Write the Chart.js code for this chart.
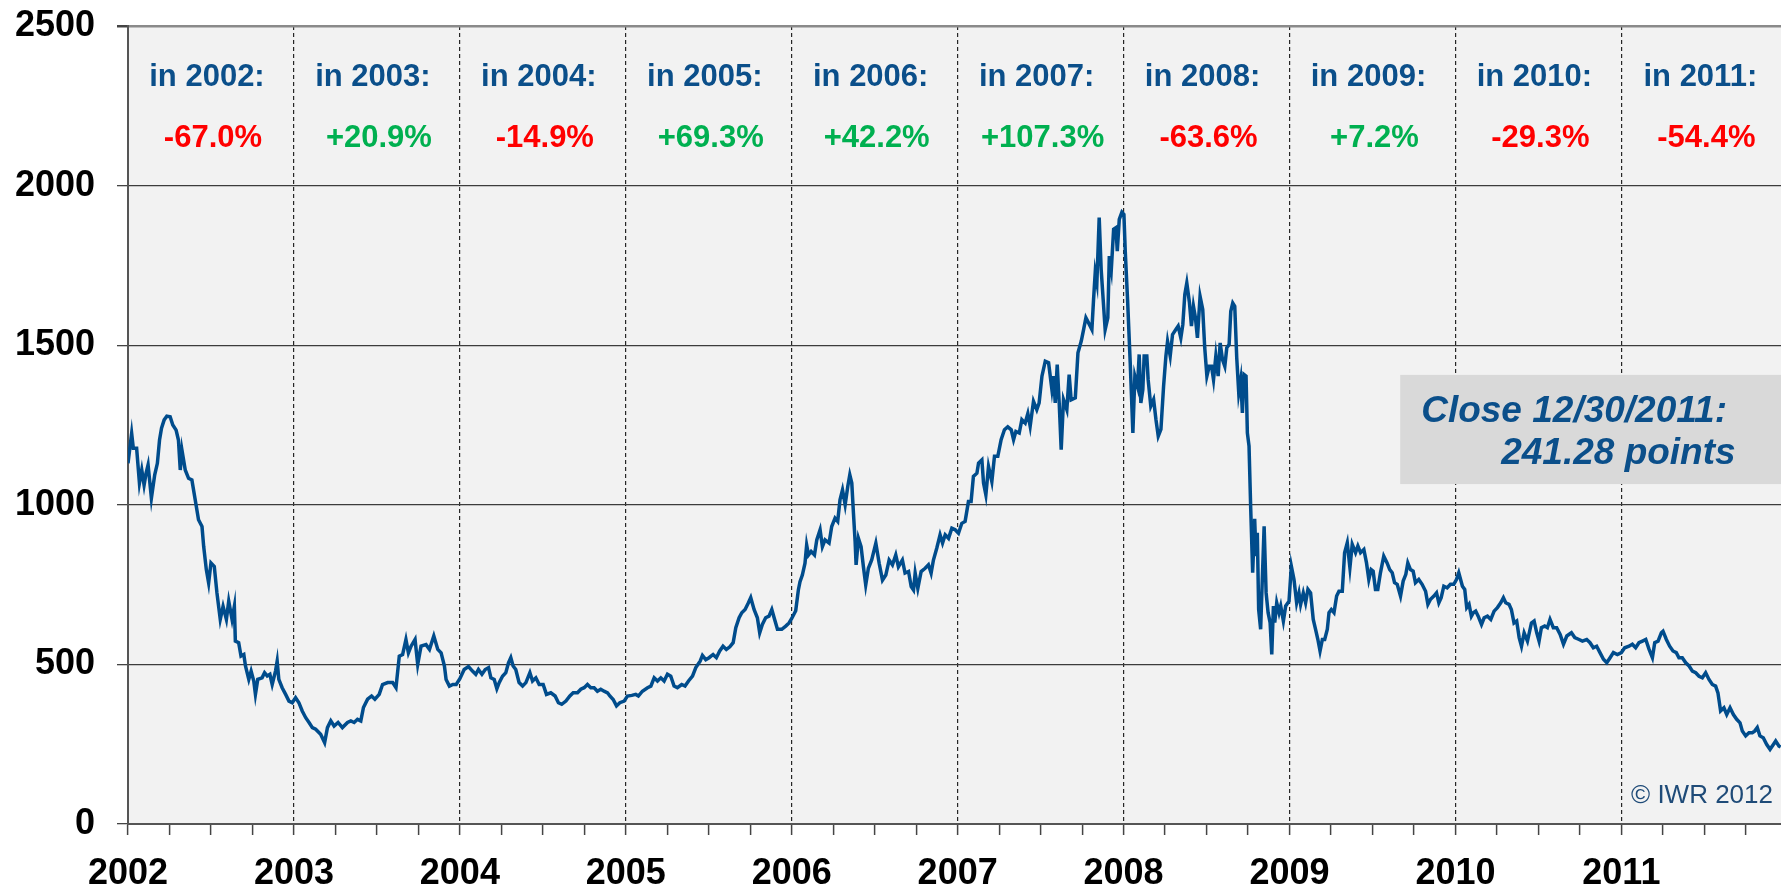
<!DOCTYPE html>
<html>
<head>
<meta charset="utf-8">
<script src="https://cdn.jsdelivr.net/npm/chart.js@4/dist/chart.umd.min.js"></script>
<style>
  html, body { margin: 0; padding: 0; background: #fff; }
  #wrap { width: 1781px; height: 884px; position: relative; }
</style>
</head>
<body>
<div id="wrap"><canvas id="chart"></canvas></div>
<script>
"use strict";

const FONT = "Arial, 'Liberation Sans', sans-serif";

// trading dates as decimal years
const dates = [
  2002.000, 2002.022, 2002.032, 2002.052, 2002.069, 2002.083, 2002.097, 2002.109, 2002.121, 2002.141,
  2002.161, 2002.177, 2002.190, 2002.202, 2002.218, 2002.234, 2002.254, 2002.270, 2002.290, 2002.304,
  2002.315, 2002.325, 2002.345, 2002.365, 2002.385, 2002.405, 2002.425, 2002.446, 2002.456, 2002.472,
  2002.486, 2002.500, 2002.520, 2002.536, 2002.556, 2002.573, 2002.593, 2002.607, 2002.627, 2002.641,
  2002.647, 2002.667, 2002.681, 2002.698, 2002.708, 2002.728, 2002.742, 2002.758, 2002.768, 2002.782,
  2002.808, 2002.823, 2002.839, 2002.855, 2002.869, 2002.889, 2002.899, 2002.909, 2002.929, 2002.950,
  2002.970, 2002.990, 2003.010, 2003.030, 2003.050, 2003.071, 2003.091, 2003.111, 2003.131, 2003.161,
  2003.185, 2003.202, 2003.222, 2003.242, 2003.266, 2003.292, 2003.323, 2003.343, 2003.363, 2003.383,
  2003.403, 2003.419, 2003.444, 2003.468, 2003.488, 2003.514, 2003.534, 2003.565, 2003.595, 2003.615,
  2003.635, 2003.655, 2003.675, 2003.690, 2003.706, 2003.730, 2003.746, 2003.766, 2003.796, 2003.817,
  2003.843, 2003.867, 2003.887, 2003.907, 2003.917, 2003.937, 2003.958, 2003.978,
  2004.000, 2004.026, 2004.052, 2004.076, 2004.096, 2004.112, 2004.133, 2004.153, 2004.173, 2004.187,
  2004.207, 2004.223, 2004.237, 2004.257, 2004.277, 2004.293, 2004.307, 2004.321, 2004.337, 2004.357,
  2004.378, 2004.398, 2004.422, 2004.438, 2004.458, 2004.478, 2004.502, 2004.522, 2004.548, 2004.574,
  2004.594, 2004.614, 2004.639, 2004.663, 2004.683, 2004.709, 2004.729, 2004.749, 2004.769, 2004.789,
  2004.809, 2004.829, 2004.849, 2004.869, 2004.890, 2004.904, 2004.924, 2004.944, 2004.964, 2004.990,
  2005.010, 2005.036, 2005.060, 2005.076, 2005.100, 2005.131, 2005.151, 2005.171, 2005.191, 2005.211,
  2005.231, 2005.251, 2005.271, 2005.291, 2005.311, 2005.337, 2005.357, 2005.378, 2005.402, 2005.422,
  2005.448, 2005.462, 2005.482, 2005.502, 2005.526, 2005.546, 2005.566, 2005.586, 2005.606, 2005.627,
  2005.647, 2005.663, 2005.683, 2005.699, 2005.719, 2005.739, 2005.753, 2005.773, 2005.793, 2005.807,
  2005.823, 2005.843, 2005.863, 2005.880, 2005.894, 2005.914, 2005.940, 2005.964, 2005.984,
  2006.000, 2006.024, 2006.040, 2006.050, 2006.064, 2006.080, 2006.090, 2006.101, 2006.117, 2006.137,
  2006.151, 2006.171, 2006.185, 2006.201, 2006.225, 2006.241, 2006.261, 2006.277, 2006.291, 2006.306,
  2006.322, 2006.338, 2006.350, 2006.362, 2006.372, 2006.382, 2006.388, 2006.402, 2006.418, 2006.432,
  2006.446, 2006.462, 2006.482, 2006.507, 2006.527, 2006.547, 2006.567, 2006.587, 2006.607, 2006.627,
  2006.643, 2006.667, 2006.683, 2006.704, 2006.720, 2006.734, 2006.744, 2006.760, 2006.780, 2006.804,
  2006.824, 2006.840, 2006.854, 2006.874, 2006.894, 2006.909, 2006.925, 2006.945, 2006.965, 2006.985,
  2007.005, 2007.025, 2007.045, 2007.065, 2007.081, 2007.095, 2007.116, 2007.126, 2007.146, 2007.156,
  2007.170, 2007.186, 2007.206, 2007.222, 2007.242, 2007.262, 2007.282, 2007.302, 2007.323, 2007.337,
  2007.351, 2007.371, 2007.387, 2007.407, 2007.423, 2007.437, 2007.457, 2007.477, 2007.491, 2007.508,
  2007.528, 2007.548, 2007.568, 2007.578, 2007.588, 2007.600, 2007.612, 2007.624, 2007.638, 2007.658,
  2007.672, 2007.684, 2007.709, 2007.725, 2007.745, 2007.759, 2007.773, 2007.789, 2007.809, 2007.819,
  2007.829, 2007.839, 2007.853, 2007.865, 2007.877, 2007.889, 2007.905, 2007.914, 2007.926, 2007.940,
  2007.954, 2007.962, 2007.974, 2007.990, 2008.002, 2008.010,
  2008.024, 2008.040, 2008.056, 2008.068, 2008.084, 2008.094, 2008.104, 2008.116, 2008.124, 2008.140,
  2008.148, 2008.164, 2008.181, 2008.195, 2008.209, 2008.225, 2008.241, 2008.255, 2008.265, 2008.281,
  2008.295, 2008.315, 2008.329, 2008.345, 2008.357, 2008.369, 2008.381, 2008.397, 2008.409, 2008.421,
  2008.433, 2008.445, 2008.461, 2008.477, 2008.489, 2008.502, 2008.516, 2008.530, 2008.542, 2008.556,
  2008.570, 2008.582, 2008.596, 2008.610, 2008.622, 2008.636, 2008.646, 2008.658, 2008.670, 2008.682,
  2008.694, 2008.706, 2008.716, 2008.726, 2008.738, 2008.746, 2008.756, 2008.766, 2008.778, 2008.790,
  2008.798, 2008.806, 2008.814, 2008.826, 2008.836, 2008.847, 2008.859, 2008.871, 2008.883, 2008.893,
  2008.903, 2008.911, 2008.923, 2008.937, 2008.947, 2008.963, 2008.977, 2008.997, 2009.011, 2009.027,
  2009.043, 2009.057, 2009.067, 2009.083, 2009.097, 2009.111, 2009.127, 2009.143, 2009.157, 2009.171,
  2009.184, 2009.198, 2009.212, 2009.228, 2009.238, 2009.252, 2009.268, 2009.284, 2009.298, 2009.318,
  2009.332, 2009.348, 2009.364, 2009.378, 2009.398, 2009.412, 2009.428, 2009.448, 2009.464, 2009.478,
  2009.492, 2009.504, 2009.518, 2009.532, 2009.548, 2009.568, 2009.588, 2009.604, 2009.619, 2009.633,
  2009.649, 2009.669, 2009.685, 2009.701, 2009.713, 2009.729, 2009.745, 2009.759, 2009.779, 2009.799,
  2009.820, 2009.834, 2009.850, 2009.870, 2009.886, 2009.900, 2009.914, 2009.930, 2009.950, 2009.970,
  2009.990, 2010.006, 2010.020,
  2010.042, 2010.056, 2010.068, 2010.082, 2010.096, 2010.108, 2010.122, 2010.137, 2010.157, 2010.173,
  2010.193, 2010.213, 2010.233, 2010.253, 2010.273, 2010.289, 2010.303, 2010.323, 2010.337, 2010.353,
  2010.369, 2010.384, 2010.398, 2010.414, 2010.434, 2010.458, 2010.474, 2010.490, 2010.504, 2010.518,
  2010.538, 2010.554, 2010.570, 2010.590, 2010.610, 2010.631, 2010.651, 2010.671, 2010.699, 2010.719,
  2010.745, 2010.765, 2010.791, 2010.811, 2010.831, 2010.851, 2010.871, 2010.892, 2010.912, 2010.932,
  2010.952, 2010.976, 2011.000, 2011.020, 2011.046, 2011.066, 2011.086, 2011.106, 2011.127, 2011.147,
  2011.167, 2011.187, 2011.201, 2011.221, 2011.241, 2011.251, 2011.271, 2011.291, 2011.311, 2011.331,
  2011.347, 2011.367, 2011.388, 2011.408, 2011.428, 2011.448, 2011.468, 2011.488, 2011.508, 2011.528,
  2011.548, 2011.568, 2011.582, 2011.598, 2011.618, 2011.635, 2011.655, 2011.675, 2011.695, 2011.715,
  2011.729, 2011.749, 2011.769, 2011.789, 2011.803, 2011.819, 2011.835, 2011.855, 2011.876, 2011.896,
  2011.916, 2011.930, 2011.950, 2011.960
];

// index closes in points
const closes = [
  1130, 1224, 1177, 1177, 1068, 1109, 1062, 1099, 1125, 1021,
  1094, 1130, 1203, 1240, 1266, 1278, 1276, 1250, 1234, 1203,
  1109, 1172, 1109, 1083, 1078, 1016, 953, 932, 870, 797,
  755, 818, 807, 724, 641, 682, 641, 698, 641, 682,
  573, 568, 526, 531, 495, 453, 479, 448, 406, 453,
  458, 474, 464, 469, 437, 479, 510, 453, 427, 406,
  385, 380, 396, 380, 354, 333, 318, 302, 297, 281,
  255, 302, 323, 307, 318, 302, 318, 323, 318, 328,
  323, 365, 391, 401, 391, 406, 437, 443, 443, 427,
  526, 531, 578, 536, 557, 578, 500, 557, 562, 547,
  589, 547, 536, 495, 453, 432, 437, 437,
  455, 484, 493, 479, 469, 484, 469, 484, 490, 458,
  453, 424, 443, 463, 474, 505, 521, 495, 484, 443,
  432, 443, 474, 448, 458, 437, 437, 406, 411, 401,
  380, 375, 385, 401, 411, 411, 422, 427, 437, 427,
  427, 416, 422, 416, 411, 401, 390, 370, 380, 385,
  401, 403, 406, 401, 416, 427, 432, 458, 448, 458,
  448, 469, 463, 432, 427, 437, 432, 448, 463, 490,
  510, 528, 515, 521, 531, 521, 542, 557, 547, 555,
  568, 615, 646, 662, 672, 693, 709, 672, 646, 599,
  625, 646, 651, 672, 646, 610, 610, 620, 630,
  644, 668, 733, 759, 780, 817, 874, 843, 854, 843,
  890, 922, 869, 890, 880, 932, 958, 948, 1016, 1047,
  1000, 1058, 1094, 1068, 974, 885, 812, 895, 869, 806,
  749, 801, 827, 880, 817, 764, 780, 827, 812, 843,
  806, 827, 786, 791, 744, 733, 786, 738, 791, 801,
  812, 786, 827, 864, 906, 880, 906, 895, 927, 922,
  911, 942, 948, 1010, 1010, 1089, 1099, 1131, 1141, 1068,
  1031, 1120, 1073, 1152, 1152, 1204, 1235, 1244, 1235, 1204,
  1230, 1225, 1267, 1256, 1286, 1246, 1324, 1298, 1319, 1403,
  1450, 1445, 1361, 1403, 1319, 1439, 1319, 1173, 1329, 1298,
  1408, 1329, 1335, 1476, 1513, 1549, 1586, 1570, 1549, 1643,
  1727, 1696, 1900, 1737, 1643, 1549, 1586, 1779, 1737, 1863,
  1868, 1795, 1894, 1917, 1910, 1795,
  1643, 1445, 1225, 1403, 1371, 1471, 1319, 1361, 1466, 1466,
  1392, 1309, 1330, 1267, 1215, 1236, 1371, 1466, 1512, 1466,
  1533, 1549, 1560, 1523, 1565, 1659, 1695, 1633, 1560, 1622,
  1586, 1523, 1653, 1612, 1492, 1403, 1434, 1434, 1392, 1466,
  1403, 1507, 1455, 1434, 1492, 1502, 1606, 1632, 1622, 1460,
  1351, 1392, 1288, 1408, 1403, 1225, 1184, 991, 787, 956,
  839, 912, 672, 610, 766, 933, 724, 662, 631, 531,
  683, 631, 693, 662, 683, 636, 683, 698, 808, 766,
  693, 724, 688, 724, 693, 735, 724, 641, 610, 578,
  542, 578, 578, 610, 662, 672, 662, 714, 729, 729,
  850, 881, 803, 876, 850, 871, 850, 860, 818, 766,
  797, 792, 735, 735, 787, 839, 818, 797, 787, 756,
  751, 714, 761, 782, 818, 797, 792, 756, 766, 751,
  729, 688, 704, 714, 724, 693, 709, 745, 740, 751,
  751, 766, 787,
  745, 735, 678, 688, 651, 662, 667, 651, 625, 646,
  651, 641, 667, 678, 693, 709, 693, 688, 672, 630,
  636, 584, 557, 599, 573, 630, 636, 599, 573, 615,
  620, 615, 641, 615, 615, 594, 563, 589, 599, 584,
  578, 573, 578, 568, 552, 557, 537, 516, 505, 521,
  537, 531, 537, 552, 557, 563, 552, 568, 573, 578,
  547, 521, 568, 573, 599, 604, 578, 557, 542, 537,
  521, 521, 505, 495, 479, 474, 463, 458, 474, 453,
  437, 432, 411, 354, 364, 343, 364, 343, 328, 317,
  291, 276, 286, 286, 291, 302, 276, 270, 249, 234,
  249, 260, 244, 241.28
];

// yearly performance shown above each year
const perfYears = [2002, 2003, 2004, 2005, 2006, 2007, 2008, 2009, 2010, 2011];
const perfChange = [-67.0, 20.9, -14.9, 69.3, 42.2, 107.3, -63.6, 7.2, -29.3, -54.4];

const closeLabel = ["Close 12/30/2011:", "241.28 points"];
const yTicks = [0, 500, 1000, 1500, 2000, 2500];

const BLUE = "#0b4f8a";
const isYear = (v) => Math.abs(v - Math.round(v)) < 1e-6;

const series = dates.map((d, i) => ({ x: d, y: closes[i] }));

// plot background, year captions, close box, copyright
const decorations = {
  id: "decorations",
  beforeDraw(chart) {
    const { ctx, chartArea: a } = chart;
    ctx.save();
    ctx.fillStyle = "#f2f2f2";
    ctx.fillRect(a.left, a.top, a.right - a.left, a.bottom - a.top);
    ctx.restore();
  },
  beforeDatasetsDraw(chart) {
    const { ctx, chartArea: a } = chart;
    const xs = chart.scales.x;
    const ys = chart.scales.y;
    ctx.save();
    ctx.textAlign = "center";
    ctx.textBaseline = "alphabetic";
    ctx.font = "bold 31px " + FONT;
    perfYears.forEach((yr, i) => {
      const cx = xs.getPixelForValue(yr + 0.5);
      ctx.fillStyle = BLUE;
      ctx.fillText("in " + yr + ":", cx - 4, ys.getPixelForValue(2312));
      const ch = perfChange[i];
      ctx.fillStyle = ch < 0 ? "#ff0000" : "#00b050";
      ctx.fillText((ch < 0 ? "-" : "+") + Math.abs(ch).toFixed(1) + "%", cx + 2, ys.getPixelForValue(2120));
    });

    // close box
    const bx = xs.getPixelForValue(2009.667);
    const by = ys.getPixelForValue(1407);
    const bh = ys.getPixelForValue(1065) - by;
    ctx.fillStyle = "#d9d9d9";
    ctx.fillRect(bx, by, a.right - bx, bh);
    ctx.fillStyle = BLUE;
    ctx.textAlign = "left";
    ctx.font = "italic bold 37px " + FONT;
    ctx.fillText(closeLabel[0], bx + 21, ys.getPixelForValue(1260));
    ctx.fillText(closeLabel[1], bx + 101, ys.getPixelForValue(1128));

    // copyright
    ctx.font = "26px " + FONT;
    ctx.fillStyle = "#1f4b78";
    ctx.textAlign = "right";
    ctx.fillText("\u00a9 IWR 2012", a.right - 8, a.bottom - 21);
    ctx.restore();
  }
};

new Chart(document.getElementById("chart"), {
  type: "line",
  data: {
    datasets: [{
      data: series,
      borderColor: "#004c8c",
      borderWidth: 3.5,
      pointRadius: 0,
      tension: 0,
      fill: false
    }]
  },
  options: {
    responsive: true,
    maintainAspectRatio: false,
    animation: false,
    events: [],
    parsing: false,
    layout: { padding: { top: 26, right: 0, bottom: 0, left: 0 } },
    plugins: {
      legend: { display: false },
      tooltip: { enabled: false }
    },
    scales: {
      x: {
        type: "linear",
        min: 2002,
        max: 2011.962,
        afterFit: (s) => {
          s.height = 60;
          s.paddingLeft = 0;
          s.paddingRight = 0;
        },
        ticks: {
          stepSize: 0.25,
          includeBounds: false,
          autoSkip: false,
          maxRotation: 0,
          padding: 17,
          color: "#000",
          font: { family: FONT, size: 36, weight: "bold" },
          callback: (v) => (isYear(v) ? String(Math.round(v)) : "")
        },
        grid: {
          color: (c) => (c.tick && isYear(c.tick.value) ? "#262626" : "rgba(0,0,0,0)"),
          lineWidth: 1.2,
          tickColor: "#444",
          tickLength: 11,
          tickWidth: 1.5
        },
        border: { color: "#555", width: 2, dash: [4, 3] }
      },
      y: {
        min: 0,
        max: 2500,
        afterFit: (s) => {
          s.width = 128;
          s.paddingTop = 0;
          s.paddingBottom = 0;
        },
        afterBuildTicks: (s) => { s.ticks = yTicks.map((v) => ({ value: v })); },
        ticks: {
          padding: 22,
          color: "#000",
          font: { family: FONT, size: 36, weight: "bold" },
          callback: (v) => String(v)
        },
        grid: {
          color: (c) => (c.tick && c.tick.value === 2500 ? "#8a8a8a" : "#3c3c3c"),
          lineWidth: (c) => (c.tick && c.tick.value === 2500 ? 2.5 : 1.3),
          tickColor: "#444",
          tickLength: 11
        },
        border: { color: "#555", width: 2 }
      }
    }
  },
  plugins: [decorations]
});
</script>
</body>
</html>
